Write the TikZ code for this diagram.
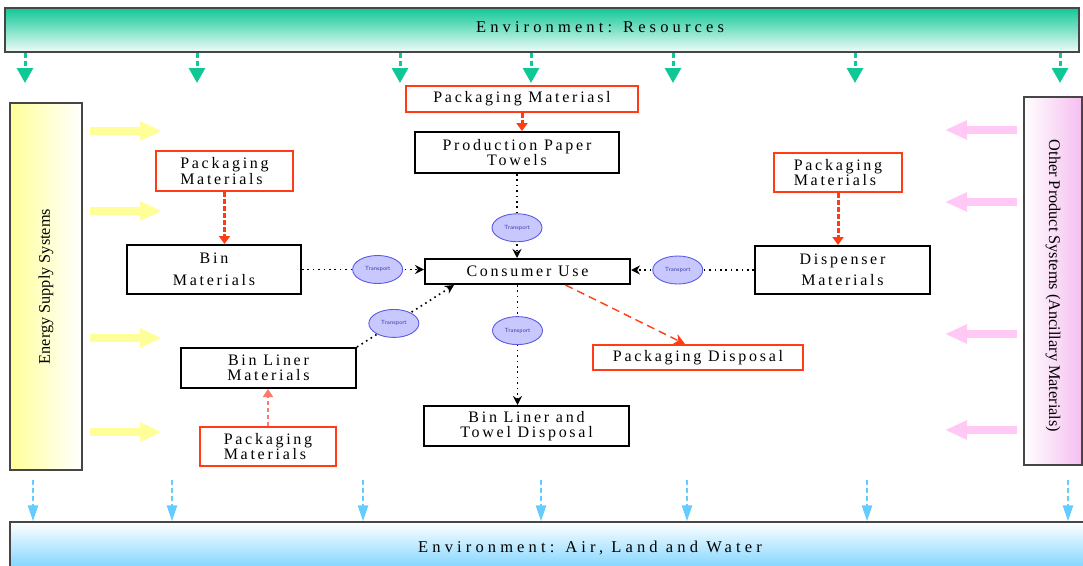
\documentclass[tikz,border=0pt]{standalone}
\usepackage{fontspec}
\setmainfont{Liberation Serif}
\newfontfamily\spc{Liberation Serif}[LetterSpace=17]
\newfontfamily\spcw{Liberation Serif}[LetterSpace=25]
\usetikzlibrary{arrows.meta,shapes.geometric}
\definecolor{envgreen}{RGB}{16,200,150}
\definecolor{envblue}{RGB}{102,204,255}
\definecolor{pkred}{RGB}{255,60,20}
\definecolor{pkpale}{RGB}{255,120,110}
\definecolor{ylw}{RGB}{255,255,153}
\definecolor{pnk}{RGB}{245,190,240}
\definecolor{pnkarr}{RGB}{255,200,245}
\definecolor{lav}{RGB}{200,200,255}
\definecolor{lavb}{RGB}{90,90,230}
\definecolor{bord}{RGB}{70,70,70}
\begin{document}
\begin{tikzpicture}[x=1pt,y=-1pt,
  bar/.style={draw=bord, line width=1.3pt, inner sep=0pt},
  bartext/.style={font=\spcw\fontsize{16.5}{18}\selectfont, inner sep=0pt},
  side/.style={draw=bord, line width=1.3pt, inner sep=0pt},
  sidetext/.style={font=\fontsize{16.3}{18}\selectfont, inner sep=0pt},
  blk/.style={draw=black, line width=2pt, fill=white, inner sep=0pt, align=center,
    font=\spc\fontsize{16}{15.5}\selectfont},
  redbox/.style={draw=pkred, line width=2pt, fill=white, inner sep=0pt, align=left,
    font=\spc\fontsize{16}{15.5}\selectfont},
  trans/.style={ellipse, solid, draw=lavb, line width=0.9pt, fill=lav, minimum width=50pt,
    minimum height=28pt, inner sep=0pt, text=lavb!70!black,
    font=\sffamily\fontsize{6}{6}\selectfont},
  dotarr/.style={draw=black, line width=1.6pt, dash pattern=on 1.6pt off 3.8pt,
    -{Stealth[length=9pt,width=9pt]}},
  redarr/.style={draw=pkred, line width=3pt, dash pattern=on 4.5pt off 2.5pt,
    -{Triangle[width=11pt,length=8pt]}},
  palearr/.style={draw=pkpale, line width=2.5pt, dash pattern=on 4.5pt off 2.5pt,
    -{Triangle[width=10pt,length=8pt]}},
  reddash/.style={draw=pkred, line width=1.4pt, dash pattern=on 8pt off 5pt,
    -{Stealth[length=11pt,width=11pt]}},
  grarr/.style={draw=envgreen, line width=3pt, dash pattern=on 5pt off 3pt,
    -{Triangle[width=16pt,length=15pt]}},
  blarr/.style={draw=envblue, line width=2.5pt, dash pattern=on 5pt off 3pt,
    -{Triangle[width=10pt,length=16pt]}},
  yarr/.style={draw=ylw, line width=8pt, -{Triangle[width=18pt,length=22pt]}},
  parr/.style={draw=pnkarr, line width=8pt, -{Triangle[width=18pt,length=22pt]}},
]
\useasboundingbox (0,0) rectangle (1083,565);
\fill[white] (0,0) rectangle (1083,565);

% environment bars
\node[bar, top color=envgreen, bottom color=envgreen!6, minimum width=1074pt, minimum height=44pt] (top) at (542,30) {};
\node[bartext] (toptext) at (600,27) {Environment: Resources};
\node[bar, top color=white, bottom color=envblue, minimum width=1080pt, minimum height=56pt] (bot) at (550,550) {};
\node[bartext] (bottext) at (590,548) {Environment: Air, Land and Water};

% side systems
\node[side, left color=ylw, right color=white, minimum width=72pt, minimum height=367pt] (esys) at (46,286.5) {};
\node[sidetext, rotate=90] (esystext) at (46,286.5) {Energy Supply Systems};
\node[side, left color=white, right color=pnk, minimum width=58pt, minimum height=368pt] (ops) at (1053,281) {};
\node[sidetext, rotate=-90] (opstext) at (1053,286) {Other Product Systems (Ancillary Materials)};

% resource arrows
\foreach \x/\n in {25/g1,197/g2,400/g3,531/g4,673/g5,855/g6,1060/g7}{
  \coordinate (\n) at (\x,83);
  \draw[grarr] (\x,0 |- top.south) -- (\n);
}
% emission arrows
\foreach \x/\n in {33/b1,172/b2,363/b3,541/b4,687/b5,867/b6,1068/b7}{
  \coordinate (\n) at (\x,480);
  \draw[blarr] (\n) -- (\x,0 |- bot.north);
}
% energy arrows
\foreach \y/\n in {131/y1,211/y2,338/y3,432/y4}{
  \coordinate (\n) at (90,\y);
  \draw[yarr] (\n) -- ++(72,0);
}
% ancillary arrows
\foreach \y/\n in {130/p1,202/p2,334/p3,430/p4}{
  \coordinate (\n) at (1017,\y);
  \draw[parr] (\n) -- ++(-72,0);
}

% process boxes
\node[blk, minimum width=204pt, minimum height=41pt] (prod) at (517,152.5) {Production Paper\\Towels};
\node[blk, minimum width=174pt, minimum height=49pt] (binm) at (214,269.5) {Bin\\[6pt]Materials};
\node[blk, minimum width=205pt, minimum height=25pt] (cu) at (527.5,271.5) {Consumer Use};
\node[blk, minimum width=175pt, minimum height=48pt] (disp) at (842.5,270) {Dispenser\\[6pt]Materials};
\node[blk, minimum width=175pt, minimum height=40pt] (blm) at (268.5,368) {Bin Liner\\Materials};
\node[blk, minimum width=205pt, minimum height=40pt] (bltd) at (526.5,426) {Bin Liner and\\Towel Disposal};

% packaging boxes
\node[redbox, minimum width=232pt, minimum height=26pt] (pkt) at (522,99) {Packaging Materiasl};
\node[redbox, minimum width=137pt, minimum height=40pt] (pkl) at (224.5,171) {Packaging\\Materials};
\node[redbox, minimum width=128pt, minimum height=39pt] (pkr) at (838,172.5) {Packaging\\Materials};
\node[redbox, minimum width=210pt, minimum height=25pt] (pd) at (698,357.5) {Packaging Disposal};
\node[redbox, minimum width=136pt, minimum height=39pt] (pkb) at (268,446.5) {Packaging\\Materials};

% packaging flows
\draw[redarr] (pkt.south) -- (pkt.south |- prod.north);
\draw[redarr] (pkl.south) -- (pkl.south |- binm.north);
\draw[redarr] (pkr.south) -- (pkr.south |- disp.north);
\draw[palearr] (pkb.north) -- (pkb.north |- blm.south);

% transport flows
\draw[dotarr] (prod.south) -- node[trans, pos=0.64] (t1) {Transport} (prod.south |- cu.north);
\draw[dotarr] (binm.east) -- node[trans, pos=0.62] (t2) {Transport} (binm.east -| cu.west);
\draw[dotarr] (disp.west) -- node[trans, pos=0.62] (t3) {Transport} (disp.west -| cu.east);
\draw[dotarr] (blm.north east) -- node[trans, pos=0.38] (t4) {Transport} ([xshift=30pt]cu.south west);
\draw[dotarr] ([xshift=-10pt]cu.south) -- node[trans, pos=0.38] (t5) {Transport} ([xshift=-10pt]cu.south |- bltd.north);
\draw[reddash] ([xshift=38pt]cu.south) -- ([xshift=-13pt]pd.north);
\end{tikzpicture}
\end{document}
